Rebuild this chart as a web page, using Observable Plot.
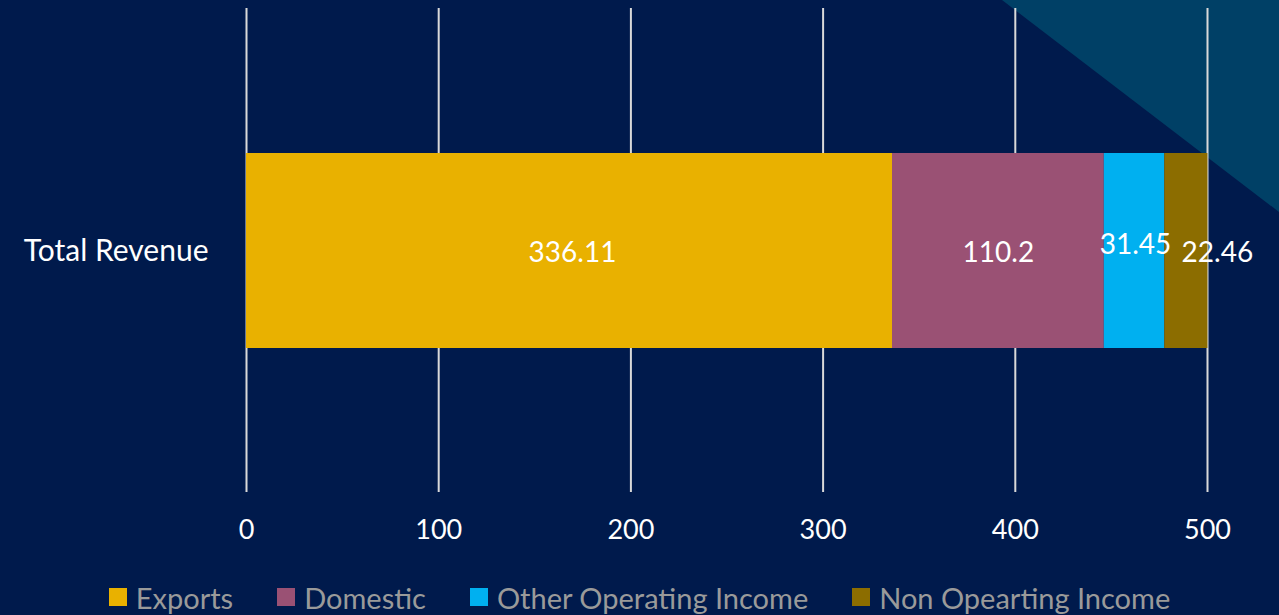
<!DOCTYPE html>
<html><head><meta charset="utf-8">
<script src="https://cdn.jsdelivr.net/npm/d3@7"></script>
<script src="https://cdn.jsdelivr.net/npm/@observablehq/plot@0.6"></script>
<style>
html,body{margin:0;padding:0;background:#001a4c;width:1279px;height:615px;overflow:hidden;font-family:Lato,sans-serif}
#tri{position:absolute;left:0;top:0;width:1279px;height:615px;background:#004066;clip-path:polygon(1002px 0,1279px 0,1279px 212px)}
#chart{position:absolute;left:0;top:0}
#legend{position:absolute;top:577px;left:0;width:1279px;height:40px;display:flex;justify-content:center;align-items:center;gap:44px;color:#9a9a9a;font-size:29px}
.item{display:flex;align-items:center;gap:9px}
.sw{width:18px;height:18px}
</style></head><body>
<div id="tri"></div>
<div id="chart"></div>
<div id="legend"></div>
<script>
const categories = ["Total Revenue"];
const seriesNames = ["Exports", "Domestic", "Other Operating Income", "Non Opearting Income"];
const seriesValues = [336.11, 110.2, 31.45, 22.46];
const seriesColors = ["#e9b100", "#9a5174", "#00b0f0", "#8c6d00"];
const xTicks = [0, 100, 200, 300, 400, 500];

const data = seriesNames.map((s, i) => ({category: categories[0], series: s, value: seriesValues[i]}));

// label placement tweaks (like the original's auto-placement)
const labelShift = {
  "Exports": {dx: 3, dy: 2},
  "Domestic": {dx: 0, dy: 2},
  "Other Operating Income": {dx: 1, dy: -6},
  "Non Opearting Income": {dx: 31, dy: 2}
};

const textAll = seriesNames.map(s => Plot.text(data, Plot.stackX({
  x: "value", y: "category", z: "series", order: seriesNames,
  text: d => d.series === s ? String(d.value) : "",
  fill: "white", fontSize: 28, dx: labelShift[s].dx, dy: labelShift[s].dy
})));

const chart = Plot.plot({
  width: 1279,
  height: 575,
  marginLeft: 246,
  marginRight: 72,
  marginTop: 8,
  marginBottom: 83,
  style: {background: "transparent", color: "white", fontFamily: "Lato, sans-serif"},
  x: {domain: [0, 500], ticks: xTicks},
  y: {domain: categories, padding: 0.425},
  color: {domain: seriesNames, range: seriesColors},
  marks: [
    Plot.gridX(xTicks, {stroke: "#d9d9d9", strokeOpacity: 1, strokeWidth: 2}),
    Plot.barX(data, Plot.stackX({x: "value", y: "category", fill: "series", order: seriesNames})),
    ...textAll,
    Plot.axisX({ticks: xTicks, tickSize: 0, tickPadding: 27, fontSize: 27, fill: "white", label: null}),
    Plot.axisY({tickSize: 0, tickPadding: 38, fontSize: 30, fill: "white", label: null})
  ]
});
document.getElementById("chart").appendChild(chart);

const legend = document.getElementById("legend");
seriesNames.forEach((s, i) => {
  const it = document.createElement("div");
  it.className = "item";
  const sw = document.createElement("div");
  sw.className = "sw";
  sw.style.background = seriesColors[i];
  const t = document.createElement("span");
  t.textContent = s;
  it.appendChild(sw); it.appendChild(t);
  legend.appendChild(it);
});
</script>
</body></html>
